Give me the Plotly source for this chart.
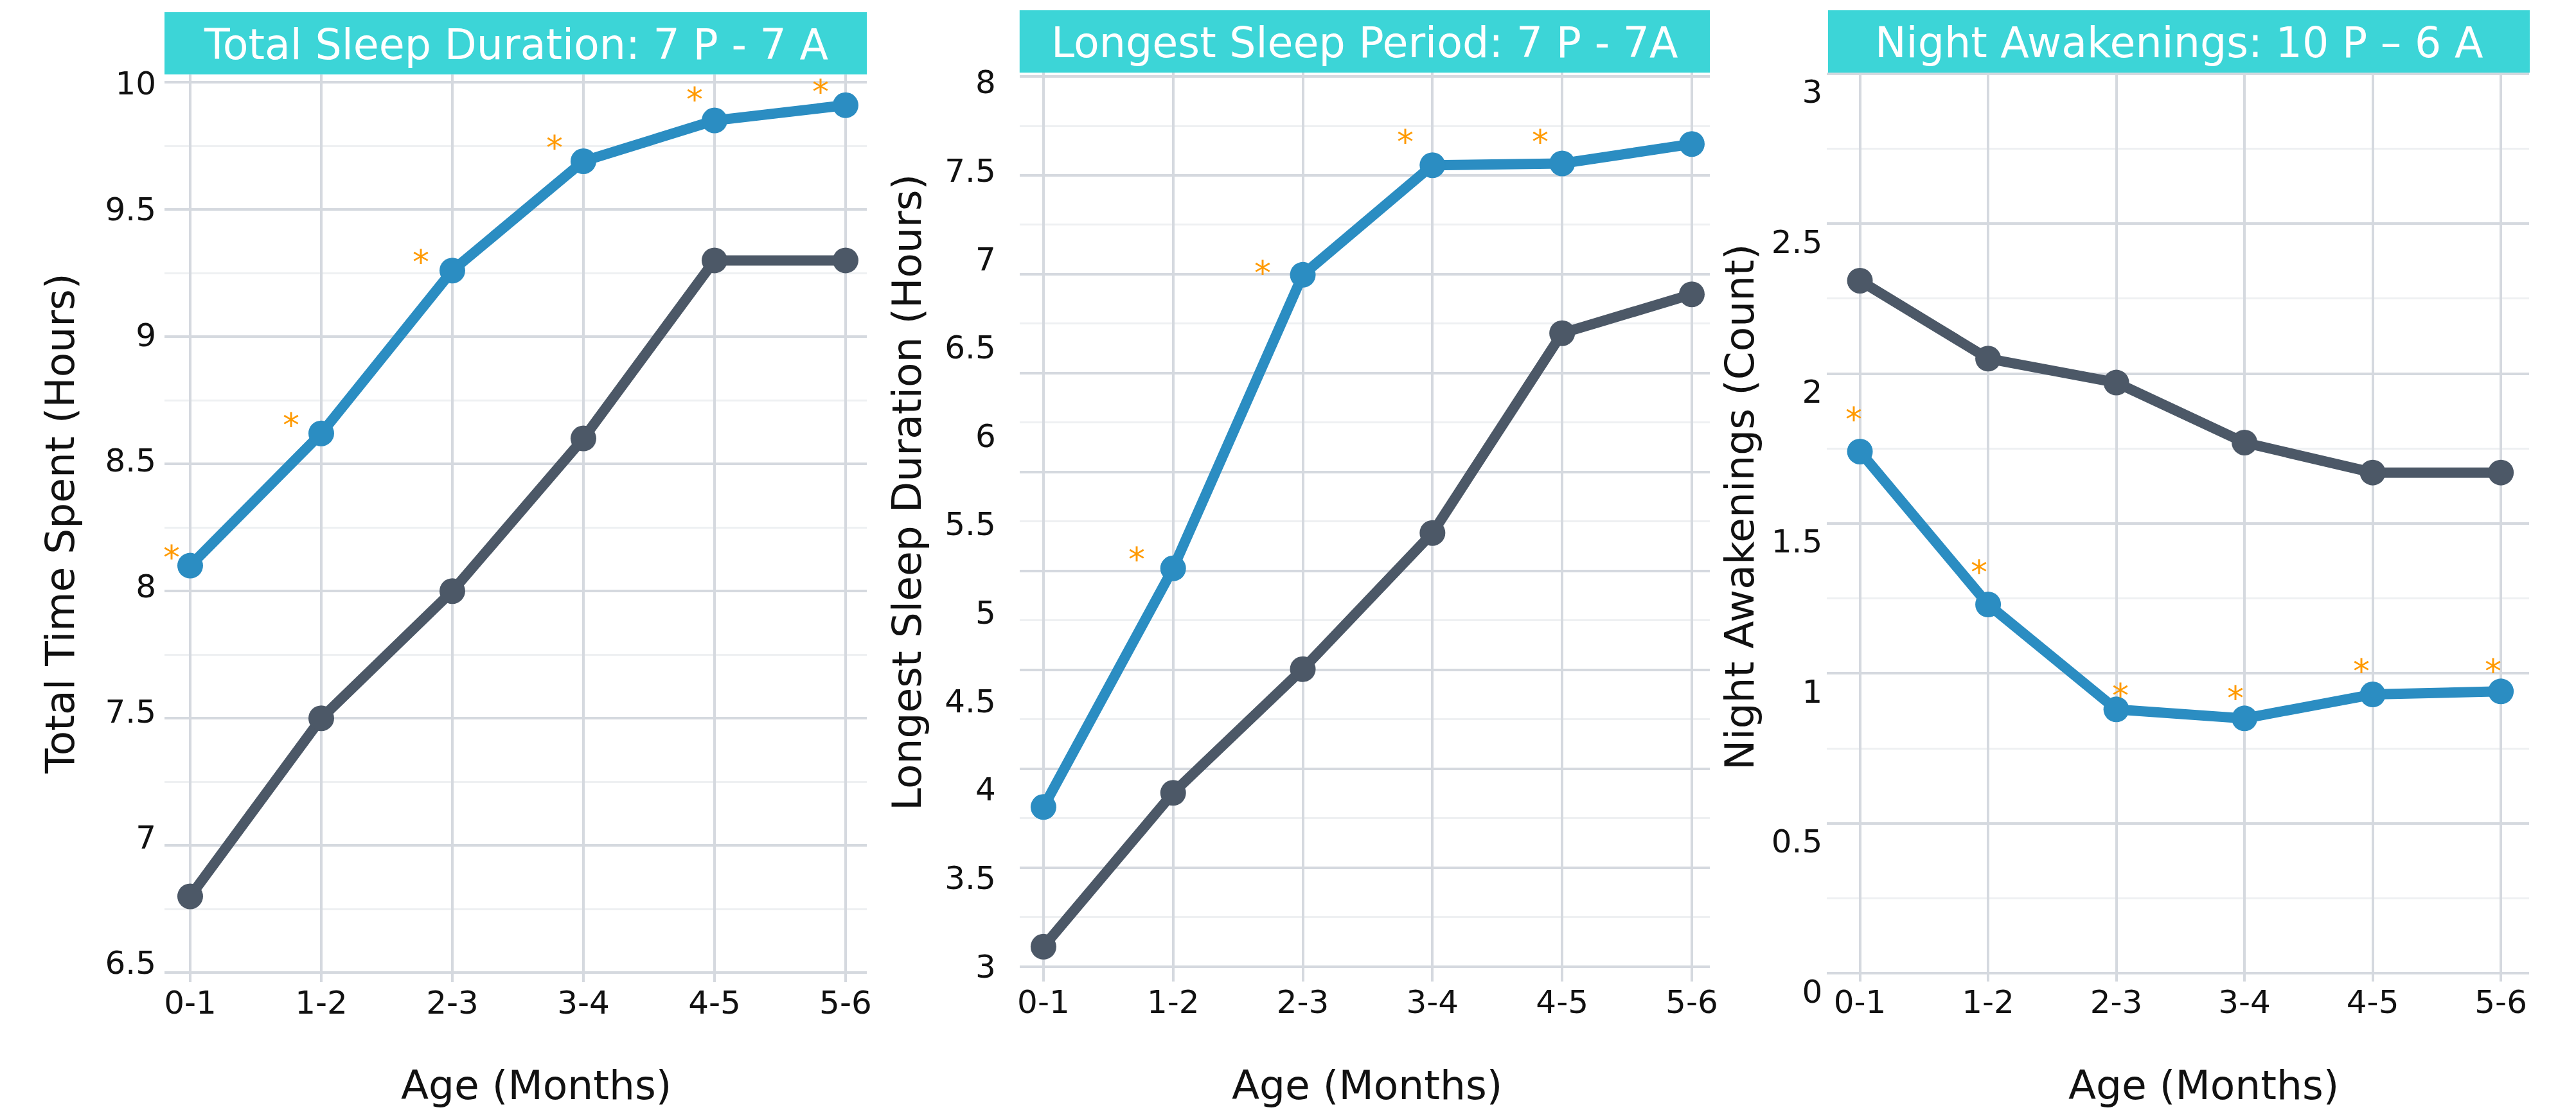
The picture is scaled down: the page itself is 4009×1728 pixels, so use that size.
import plotly.graph_objects as go

# ---------------- data ----------------
ages = ["0-1", "1-2", "2-3", "3-4", "4-5", "5-6"]

total_blue = [8.10, 8.62, 9.26, 9.69, 9.85, 9.91]
total_gray = [6.80, 7.50, 8.00, 8.60, 9.30, 9.30]
longest_blue = [3.90, 5.25, 6.91, 7.53, 7.54, 7.65]
longest_gray = [3.11, 3.98, 4.68, 5.45, 6.58, 6.80]
wake_blue = [1.74, 1.23, 0.88, 0.85, 0.93, 0.94]
wake_gray = [2.31, 2.05, 1.97, 1.77, 1.67, 1.67]

# significance asterisks (position index along age axis, value)
total_star_x = [-0.14, 0.77, 1.76, 2.78, 3.85, 4.81]
total_star_y = [8.16, 8.68, 9.32, 9.77, 9.96, 9.99]
longest_star_x = [-0.21, 0.72, 1.69, 2.79, 3.83]
longest_star_y = [3.99, 5.34, 6.96, 7.70, 7.70]
wake_star_x = [-0.05, 0.93, 2.03, 2.93, 3.91, 4.94]
wake_star_y = [1.87, 1.36, 0.95, 0.94, 1.03, 1.03]

panel_titles = ["Total Sleep Duration: 7 P - 7 A",
                "Longest Sleep Period: 7 P - 7A",
                "Night Awakenings: 10 P \u2013 6 A"]
y_titles = ["Total Time Spent (Hours)",
            "Longest Sleep Duration (Hours)",
            "Night Awakenings (Count)"]
x_title = "Age (Months)"

# ---------------- style ----------------
W, H = 4009, 1728
OFF = 8  # page body margin
BLUE = "#2B8DC2"
GRAY = "#4C5867"
STRIP = "#3CD5D7"
ORANGE = "#FF9A00"
GRID = "#D5D9DF"
MINOR = "#EEF0F2"
FONT = "DejaVu Sans"
TXT = "#111111"

def px(v):
    return (v - OFF) / W

def py(v):
    return 1 - (v - OFF) / H

idx = list(range(len(ages)))

fig = go.Figure()

panels = [
    dict(xa="x", ya="y", blue=total_blue, gray=total_gray,
         sx=total_star_x, sy=total_star_y),
    dict(xa="x2", ya="y2", blue=longest_blue, gray=longest_gray,
         sx=longest_star_x, sy=longest_star_y),
    dict(xa="x3", ya="y3", blue=wake_blue, gray=wake_gray,
         sx=wake_star_x, sy=wake_star_y),
]

for p in panels:
    for vals, col in ((p["gray"], GRAY), (p["blue"], BLUE)):
        fig.add_trace(go.Scatter(
            x=idx, y=vals, mode="lines+markers",
            line=dict(color=col, width=16),
            marker=dict(color=col, size=40),
            xaxis=p["xa"], yaxis=p["ya"], showlegend=False, hoverinfo="skip"))

# invisible traces holding the overlay axes (grid-only for panel 2, labels-only for panel 1)
fig.add_trace(go.Scatter(x=[0], y=[None], mode="markers", xaxis="x2", yaxis="y4",
                         showlegend=False, hoverinfo="skip"))
fig.add_trace(go.Scatter(x=[0], y=[None], mode="markers", xaxis="x", yaxis="y5",
                         showlegend=False, hoverinfo="skip"))

annotations = []
for p in panels:
    for sx, sy in zip(p["sx"], p["sy"]):
        annotations.append(dict(x=sx, y=sy, xref=p["xa"], yref=p["ya"], text="*",
                                showarrow=False, yshift=-11,
                                font=dict(family=FONT, size=52, color=ORANGE)))

tickfont = dict(family=FONT, size=50, color=TXT)
titlefont = dict(family=FONT, size=63, color=TXT)

def xax(left, right, rng):
    return dict(domain=[px(left), px(right)], range=rng, tickmode="array",
                tickvals=idx, ticktext=ages, showgrid=True, gridcolor=GRID,
                gridwidth=4, zeroline=False, showline=False, ticks="",
                tickfont=tickfont, ticklabelstandoff=-2, fixedrange=True)

def yax(top, bottom, rng, grid=True, labels=True, **kw):
    d = dict(domain=[py(bottom), py(top)], range=rng, tickmode="linear", tick0=0,
             dtick=0.5, showgrid=grid, gridcolor=GRID, gridwidth=4,
             zeroline=False, showline=False, ticks="", tickfont=tickfont,
             showticklabels=labels, fixedrange=True)
    if grid:
        d["minor"] = dict(dtick=0.25, tick0=0, showgrid=True, gridcolor=MINOR,
                          gridwidth=3, ticks="")
    d.update(kw)
    return d

fig.update_layout(
    width=W, height=H,
    margin=dict(l=0, r=0, t=0, b=0, autoexpand=False),
    paper_bgcolor="white", plot_bgcolor="white",
    xaxis=xax(256, 1349, [-0.196, 5.162]),
    yaxis=yax(115.5, 1529.3, [6.462, 10.032], labels=False, anchor="x"),
    yaxis5=yax(115.5, 1529.3, [6.4225, 10.037], grid=False, overlaying="y",
               anchor="x", ticklabelstandoff=12),
    xaxis2=xax(1586.8, 2661, [-0.184, 5.139]),
    yaxis2=yax(113, 1528, [2.913, 8.054], grid=False, anchor="x2",
               ticklabelstandoff=36),
    yaxis4=yax(113, 1528, [3.425, 8.0195], labels=False, overlaying="y2",
               anchor="x2"),
    xaxis3=xax(2843.3, 3936, [-0.257, 5.22]),
    yaxis3=yax(113, 1527.7, [-0.027, 3.004], anchor="x3", ticklabelstandoff=6,
               ticklabelshift=28),
)
fig.update_layout(xaxis_anchor="y", xaxis2_anchor="y2", xaxis3_anchor="y3")

# facet strips
strips = [(256, 1349, 19, 115.7), (1586.8, 2661, 16.1, 112.9), (2845, 3937, 16, 113)]
shapes = []
for (l, r, t, b), title in zip(strips, panel_titles):
    shapes.append(dict(type="rect", xref="paper", yref="paper", x0=px(l), x1=px(r),
                       y0=py(b), y1=py(t), fillcolor=STRIP, line=dict(width=0),
                       layer="above"))
    annotations.append(dict(x=px((l + r) / 2), y=py((t + b) / 2 + 2), xref="paper",
                            yref="paper", text=title, showarrow=False,
                            xanchor="center", yanchor="middle",
                            font=dict(family=FONT, size=65, color="white")))

# axis titles
ytitle_pos = [(94, 815), (1411, 767), (2707, 790)]
for (x, y), t in zip(ytitle_pos, y_titles):
    annotations.append(dict(x=px(x), y=py(y), xref="paper", yref="paper", text=t,
                            textangle=-90, showarrow=False, xanchor="center",
                            yanchor="middle", font=titlefont))
for x in (834, 2127, 3429):
    annotations.append(dict(x=px(x), y=py(1689), xref="paper", yref="paper",
                            text=x_title, showarrow=False, xanchor="center",
                            yanchor="middle", font=titlefont))

fig.update_layout(shapes=shapes, annotations=annotations)
fig.write_html("out.html")
